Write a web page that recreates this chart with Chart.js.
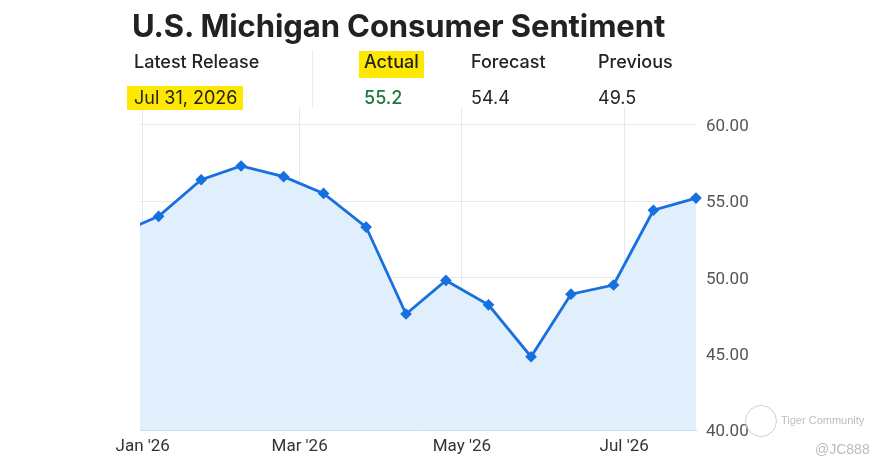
<!DOCTYPE html>
<html>
<head>
<meta charset="utf-8">
<script src="https://cdn.jsdelivr.net/npm/chart.js@4"></script>
<style>
  html, body { margin: 0; padding: 0; background: #fff; }
  body { width: 888px; height: 470px; position: relative; overflow: hidden; font-family: Inter, "Noto Sans", sans-serif; color: #222; }
  #chartBox { position: absolute; left: 0; top: 0; width: 888px; height: 470px; }
  .txt { position: absolute; white-space: nowrap; line-height: 1; }
  .title { left: 132px; top: 10px; font-size: 31px; font-weight: 700; color: #222; letter-spacing: -0.1px; }
  .head { top: 53px; font-size: 18px; font-weight: 500; color: #222; }
  .val { top: 89px; font-size: 18px; font-weight: 400; color: #222; }
  .mark { background: #ffe800; }
  .sep { position: absolute; left: 312px; top: 50px; width: 1px; height: 57px; background: #ececec; }
  .wm { color: #bdbdbd; font-family: "Liberation Sans", Arial, sans-serif; }
</style>
</head>
<body>
<div id="chartBox"><canvas id="sentimentChart"></canvas></div>

<div class="txt title">U.S. Michigan Consumer Sentiment</div>
<div class="sep"></div>
<div class="txt head" style="left:134px">Latest Release</div>
<div class="mark" style="position:absolute;left:359px;top:51px;width:65px;height:27px"></div>
<div class="txt head" style="left:364px">Actual</div>
<div class="txt head" style="left:471px">Forecast</div>
<div class="txt head" style="left:598px">Previous</div>
<div class="mark" style="position:absolute;left:127px;top:86px;width:116px;height:24px"></div>
<div class="txt val" style="left:134px">Jul 31, 2026</div>
<div class="txt val" style="left:364px;color:#1d7a3c;font-weight:500">55.2</div>
<div class="txt val" style="left:471px">54.4</div>
<div class="txt val" style="left:598px">49.5</div>

<div class="wm" style="position:absolute;left:745px;top:405px;width:30px;height:30px;border:1px solid #cfcfcf;border-radius:50%"></div>
<div class="txt wm" style="left:781px;top:415px;font-size:11px">Tiger Community</div>
<div class="txt wm" style="left:815px;top:442px;font-size:14px">@JC888</div>

<script>
// release dates and index values
const releaseDates = ['2025-12-23', '2026-01-07', '2026-01-23', '2026-02-07', '2026-02-23', '2026-03-10',
    '2026-03-26', '2026-04-10', '2026-04-25', '2026-05-11', '2026-05-27', '2026-06-11',
    '2026-06-27', '2026-07-12', '2026-07-28'];
const sentiment = [52.9, 54.0, 56.4, 57.3, 56.6, 55.5, 53.3, 47.6, 49.8, 48.2, 44.8, 48.9, 49.5, 54.4, 55.2];

// axis ticks
const tickDates = ['2026-01-01', '2026-03-01', '2026-05-01', '2026-07-01'];
const tickLabels = ["Jan '26", "Mar '26", "May '26", "Jul '26"];
const yTicks = [40, 45, 50, 55, 60];

// days since Jan 1 2026
function dayNum(s) {
    const p = s.split('-').map(Number);
    return (Date.UTC(p[0], p[1] - 1, p[2]) - Date.UTC(2026, 0, 1)) / 86400000;
}

const tickDays = tickDates.map(dayNum);
const points = releaseDates.map((d, i) => ({ x: dayNum(d), y: sentiment[i] }));

const lineBlue = '#1670e0';

new Chart(document.getElementById('sentimentChart'), {
    type: 'line',
    data: {
        datasets: [{
            data: points,
            borderColor: lineBlue,
            borderWidth: 2.8,
            backgroundColor: '#e1eefc',
            fill: 'start',
            tension: 0,
            pointStyle: 'rectRot',
            pointRadius: 5,
            pointBackgroundColor: lineBlue,
            pointBorderColor: lineBlue,
            pointBorderWidth: 1.2,
            clip: { left: 0, top: false, right: false, bottom: 0 }
        }]
    },
    options: {
        responsive: true,
        maintainAspectRatio: false,
        animation: false,
        layout: { padding: { left: 140, top: 108, right: 0, bottom: 0 } },
        plugins: {
            legend: { display: false },
            tooltip: { enabled: false }
        },
        scales: {
            x: {
                type: 'linear',
                min: -1,
                max: 208,
                afterBuildTicks: (scale) => { scale.ticks = tickDays.map(v => ({ value: v })); },
                afterFit: (scale) => { scale.height = 40; },
                ticks: {
                    autoSkip: false,
                    maxRotation: 0,
                    padding: 7,
                    color: '#333',
                    font: { family: 'Roboto', size: 17 },
                    callback: (v) => tickLabels[tickDays.indexOf(v)]
                },
                grid: { color: '#e6e9ee', drawTicks: false },
                border: { display: true, color: '#d3dbe6' }
            },
            y: {
                position: 'right',
                min: 40,
                max: 61.1,
                afterBuildTicks: (scale) => { scale.ticks = yTicks.map(v => ({ value: v })); },
                afterFit: (scale) => { scale.width = 192; },
                ticks: {
                    padding: 10,
                    labelOffset: 2,
                    color: '#555',
                    font: { family: 'Roboto', size: 17 },
                    callback: (v) => v.toFixed(2)
                },
                grid: { color: '#e8e8e8', drawTicks: false },
                border: { display: false }
            }
        }
    }
});
</script>
</body>
</html>
